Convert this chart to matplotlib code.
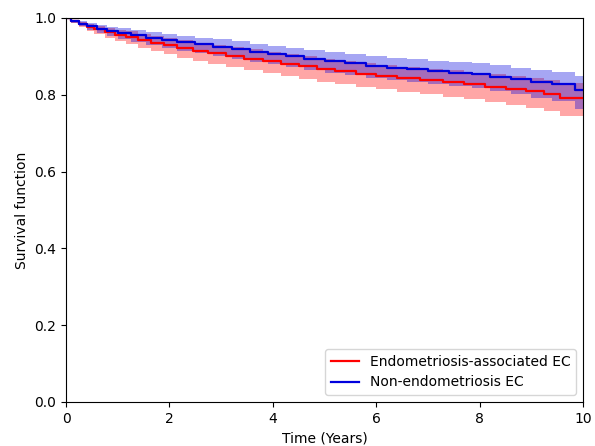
import matplotlib
matplotlib.use("Agg")
import matplotlib.pyplot as plt

# Endometriosis-associated EC (red)
red_t = [0.00, 0.10, 0.25, 0.40, 0.55, 0.75, 0.95, 1.15, 1.40, 1.65, 1.90, 2.15, 2.45, 2.75, 3.10, 3.45,
         3.80, 4.15, 4.50, 4.85, 5.20, 5.60, 6.00, 6.40, 6.85, 7.30, 7.70, 8.10, 8.50, 8.90, 9.25, 9.55]
red_s = [1.000, 0.992, 0.984, 0.977, 0.970, 0.963, 0.956, 0.950, 0.943, 0.936, 0.929, 0.922, 0.915, 0.908, 0.901, 0.894,
         0.887, 0.880, 0.874, 0.867, 0.861, 0.855, 0.849, 0.844, 0.838, 0.833, 0.827, 0.821, 0.815, 0.809, 0.803, 0.792]
red_lo = [1.000, 0.988, 0.977, 0.967, 0.958, 0.949, 0.940, 0.932, 0.923, 0.914, 0.906, 0.897, 0.889, 0.881, 0.873, 0.865,
          0.857, 0.849, 0.842, 0.834, 0.827, 0.820, 0.814, 0.808, 0.801, 0.795, 0.788, 0.781, 0.774, 0.766, 0.758, 0.744]
red_hi = [1.000, 0.996, 0.990, 0.985, 0.980, 0.975, 0.969, 0.965, 0.959, 0.954, 0.948, 0.942, 0.936, 0.930, 0.924, 0.918,
          0.912, 0.906, 0.900, 0.894, 0.889, 0.883, 0.878, 0.873, 0.868, 0.864, 0.858, 0.853, 0.848, 0.843, 0.839, 0.830]

# Non-endometriosis EC (blue)
blue_t = [0.00, 0.10, 0.25, 0.40, 0.60, 0.80, 1.00, 1.25, 1.55, 1.85, 2.15, 2.50, 2.85, 3.20, 3.55, 3.90,
          4.25, 4.60, 5.00, 5.40, 5.80, 6.20, 6.60, 7.00, 7.40, 7.85, 8.20, 8.60, 9.00, 9.40, 9.85]
blue_s = [1.000, 0.992, 0.985, 0.978, 0.972, 0.966, 0.961, 0.955, 0.949, 0.943, 0.937, 0.931, 0.925, 0.919, 0.912, 0.906,
          0.900, 0.894, 0.888, 0.882, 0.876, 0.871, 0.866, 0.862, 0.858, 0.853, 0.847, 0.840, 0.833, 0.827, 0.812]
blue_lo = [1.000, 0.988, 0.978, 0.969, 0.961, 0.953, 0.946, 0.938, 0.930, 0.923, 0.915, 0.908, 0.901, 0.894, 0.886, 0.879,
           0.872, 0.865, 0.858, 0.851, 0.844, 0.839, 0.833, 0.828, 0.823, 0.817, 0.810, 0.801, 0.792, 0.784, 0.762]
blue_hi = [1.000, 0.996, 0.991, 0.986, 0.981, 0.977, 0.973, 0.968, 0.963, 0.959, 0.954, 0.949, 0.944, 0.939, 0.933, 0.928,
           0.922, 0.917, 0.912, 0.907, 0.901, 0.897, 0.893, 0.889, 0.886, 0.882, 0.877, 0.871, 0.865, 0.860, 0.848]

end_time = 10.0
labels = ["Endometriosis-associated EC", "Non-endometriosis EC"]
xticks = [0, 2, 4, 6, 8, 10]
yticks = [0.0, 0.2, 0.4, 0.6, 0.8, 1.0]

fig = plt.figure(figsize=(5.95, 4.46), dpi=100)
ax = fig.add_axes([0.111, 0.0987, 0.869, 0.861])

def draw(t, s, lo, hi, color, label, alpha):
    tt = list(t) + [end_time]
    ss = list(s) + [s[-1]]
    ll = list(lo) + [lo[-1]]
    hh = list(hi) + [hi[-1]]
    ax.fill_between(tt, ll, hh, step="post", color=color, alpha=alpha, linewidth=0)
    ax.plot(tt, ss, drawstyle="steps-post", color=color, linewidth=1.6, label=label)

draw(red_t, red_s, red_lo, red_hi, "red", labels[0], 0.35)
draw(blue_t, blue_s, blue_lo, blue_hi, "#0000dd", labels[1], 0.35)

ax.set_xlim(0, 10)
ax.set_ylim(0, 1.0)
ax.set_xticks(xticks)
ax.set_yticks(yticks)
ax.set_xticklabels([str(x) for x in xticks])
ax.set_yticklabels([f"{y:.1f}" for y in yticks])
ax.tick_params(labelsize=10)
ax.set_xlabel("Time (Years)", fontsize=10)
ax.set_ylabel("Survival function", fontsize=10)
ax.legend(loc="lower right", fontsize=10)

fig.savefig("out.png", dpi=100)
